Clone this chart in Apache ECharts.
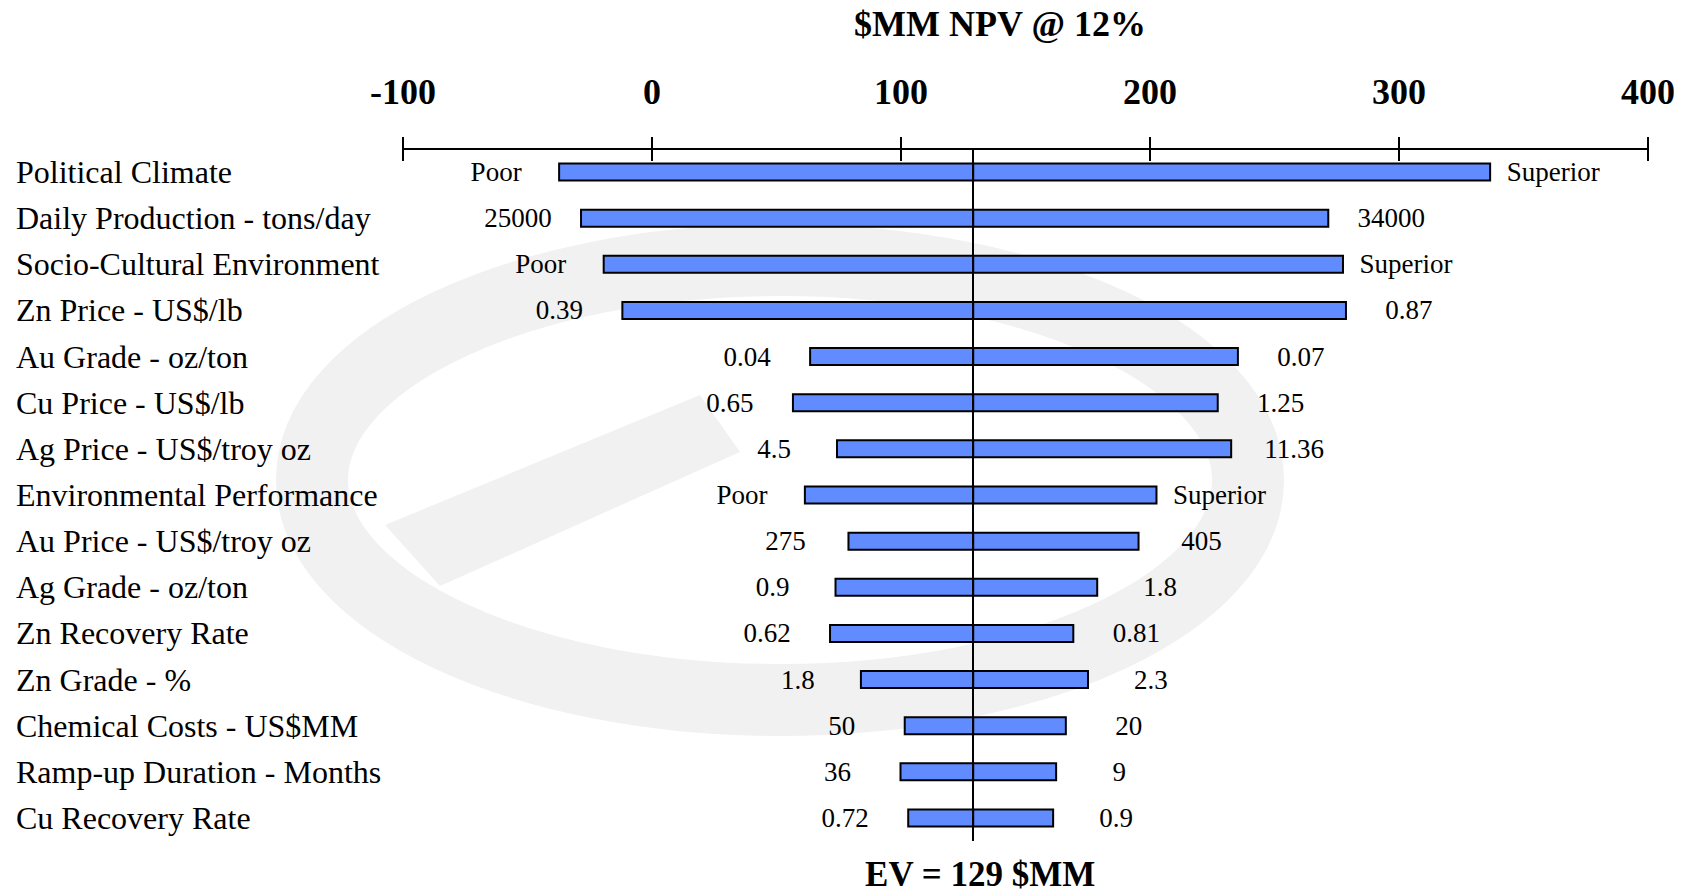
<!DOCTYPE html>
<html>
<head>
<meta charset="utf-8">
<title>NPV Sensitivity</title>
<script src="https://cdn.jsdelivr.net/npm/echarts@6/dist/echarts.min.js"></script>
<style>
  html, body { margin: 0; padding: 0; background: #ffffff; }
  #chart { width: 1681px; height: 895px; }
</style>
</head>
<body>
<div id="chart"></div>
<script>
// ---- data -------------------------------------------------------------
const categories = [
  'Political Climate',
  'Daily Production - tons/day',
  'Socio-Cultural Environment',
  'Zn Price - US$/lb',
  'Au Grade - oz/ton',
  'Cu Price - US$/lb',
  'Ag Price - US$/troy oz',
  'Environmental Performance',
  'Au Price - US$/troy oz',
  'Ag Grade - oz/ton',
  'Zn Recovery Rate',
  'Zn Grade - %',
  'Chemical Costs - US$MM',
  'Ramp-up Duration - Months',
  'Cu Recovery Rate'
];

// input setting at each end of the swing
const lowLabels  = ['Poor', '25000', 'Poor', '0.39', '0.04', '0.65', '4.5', 'Poor', '275', '0.9', '0.62', '1.8', '50', '36', '0.72'];
const highLabels = ['Superior', '34000', 'Superior', '0.87', '0.07', '1.25', '11.36', 'Superior', '405', '1.8', '0.81', '2.3', '20', '9', '0.9'];

// NPV ($MM) reached at each end of the swing
const lowNPV  = [-37.3, -28.5, -19.4, -11.9, 63.5, 56.6, 74.3, 61.4, 78.9, 73.7, 71.5, 83.9, 101.5, 99.8, 102.9];
const highNPV = [336.6, 271.6, 277.5, 278.7, 235.3, 227.2, 232.6, 202.6, 195.4, 178.8, 169.2, 175.1, 166.2, 162.3, 161.1];

// expected value the bars swing around
const EV = 129;

// value axis ticks
const axisMin = -100;
const axisMax = 400;
const axisStep = 100;

const chartTitle = '$MM NPV @ 12%';
const evText = 'EV = ' + EV + ' $MM';

// ---- styling ----------------------------------------------------------
const SERIF = '"Liberation Serif", "Times New Roman", serif';
const BAR_FILL = '#608CFF';
const BAR_HEIGHT = 17;
const LABEL_OFFSET = 63;
const EMBLEM = '#F1F1F1';

// one swing bar (EV -> end value) plus the input label beyond its end
function swingRenderer(labels, dir) {
  return function (params, api) {
    const row = api.value(1);
    const end = api.coord([api.value(0), row]);
    const base = api.coord([EV, row]);
    const x0 = Math.min(end[0], base[0]);
    return {
      type: 'group',
      children: [
        {
          type: 'rect',
          shape: { x: x0, y: end[1] - BAR_HEIGHT / 2, width: Math.abs(end[0] - base[0]), height: BAR_HEIGHT },
          style: { fill: BAR_FILL, stroke: '#000000', lineWidth: 2 }
        },
        {
          type: 'text',
          style: {
            text: labels[params.dataIndex],
            x: end[0] + dir * LABEL_OFFSET,
            y: end[1],
            align: 'center',
            verticalAlign: 'middle',
            font: '27px ' + SERIF,
            fill: '#000000'
          }
        }
      ]
    };
  };
}

const chart = echarts.init(document.getElementById('chart'), null, { renderer: 'svg' });

const valueAxisBase = {
  type: 'value',
  position: 'top',
  min: axisMin,
  max: axisMax,
  interval: axisStep,
  splitLine: { show: false }
};

chart.setOption({
  animation: false,
  backgroundColor: '#ffffff',
  grid: { left: 403, right: 33, top: 149, bottom: 54, containLabel: false },
  xAxis: [
    Object.assign({}, valueAxisBase, {
      axisLine: { show: true, lineStyle: { color: '#000000', width: 2 } },
      axisTick: { show: true, inside: false, length: 12, lineStyle: { color: '#000000', width: 2 } },
      axisLabel: {
        show: true,
        margin: 39,
        color: '#000000',
        fontFamily: SERIF,
        fontWeight: 'bold',
        fontSize: 36
      }
    }),
    // downward half of the crossing tick marks
    Object.assign({}, valueAxisBase, {
      axisLine: { show: false },
      axisTick: { show: true, inside: true, length: 12, lineStyle: { color: '#000000', width: 2 } },
      axisLabel: { show: false }
    })
  ],
  yAxis: {
    type: 'category',
    data: categories,
    inverse: true,
    axisLine: { show: false },
    axisTick: { show: false },
    splitLine: { show: false },
    axisLabel: {
      align: 'left',
      margin: 387,
      color: '#000000',
      fontFamily: SERIF,
      fontSize: 32
    }
  },
  series: [
    {
      name: 'Low',
      type: 'custom',
      xAxisIndex: 0,
      renderItem: swingRenderer(lowLabels, -1),
      encode: { x: 0, y: 1 },
      data: lowNPV.map((v, i) => [v, i]),
      z: 2,
      markLine: {
        silent: true,
        symbol: 'none',
        label: { show: false },
        lineStyle: { color: '#000000', width: 2, type: 'solid' },
        data: [{ xAxis: EV }],
        z: 5
      }
    },
    {
      name: 'High',
      type: 'custom',
      xAxisIndex: 0,
      renderItem: swingRenderer(highLabels, 1),
      encode: { x: 0, y: 1 },
      data: highNPV.map((v, i) => [v, i]),
      z: 2
    }
  ]
});

const evX = chart.convertToPixel({ xAxisIndex: 0 }, EV);

chart.setOption({
  graphic: [
    // faint background emblem
    {
      type: 'ellipse',
      z: -10,
      silent: true,
      shape: { cx: 780, cy: 480, rx: 468, ry: 220 },
      style: { fill: 'none', stroke: EMBLEM, lineWidth: 72 }
    },
    {
      type: 'polygon',
      z: -10,
      silent: true,
      shape: { points: [[385, 525], [700, 395], [740, 452], [440, 586]] },
      style: { fill: EMBLEM }
    },
    // headings
    {
      type: 'text',
      style: {
        text: chartTitle,
        x: 1000,
        y: 24,
        align: 'center',
        verticalAlign: 'middle',
        font: 'bold 36px ' + SERIF,
        fill: '#000000'
      }
    },
    {
      type: 'text',
      style: {
        text: evText,
        x: evX + 7,
        y: 874,
        align: 'center',
        verticalAlign: 'middle',
        font: 'bold 35px ' + SERIF,
        fill: '#000000'
      }
    }
  ]
});
</script>
</body>
</html>
